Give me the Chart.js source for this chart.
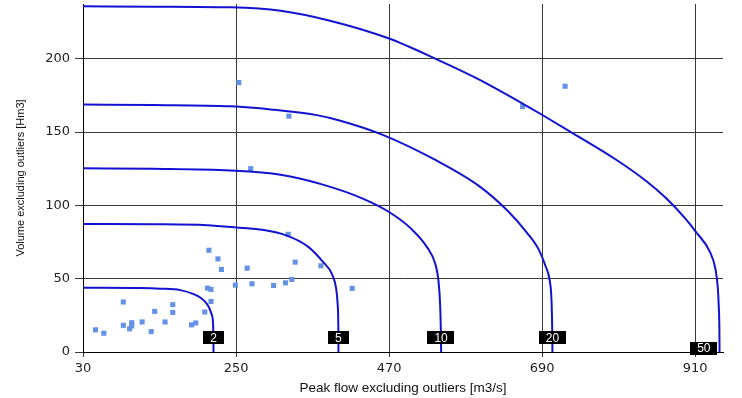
<!DOCTYPE html>
<html>
<head>
<meta charset="utf-8">
<script src="https://cdn.jsdelivr.net/npm/chart.js@4/dist/chart.umd.min.js"></script>
<style>
  html, body { margin: 0; padding: 0; background: #fff; }
  #chart { display: block; }
</style>
</head>
<body>
<canvas id="chart" width="742" height="398"></canvas>
<script>
// ── Observed events (peak flow, volume) ──
var obsQ = [48, 60, 88, 88, 97, 100, 100, 115, 128, 133, 148, 159, 159, 186, 192, 205,
            211, 224, 229, 209, 214, 214, 249, 266, 273, 304, 321, 330, 335, 325,
            372, 417, 254, 326, 271, 662, 723];
var obsV = [15.1, 12.8, 34.1, 18.2, 15.8, 20, 17.8, 20.5, 13.9, 27.7, 20.5, 32.3, 27, 18.5, 19.8, 27.3,
            69.4, 63.5, 56.3, 43.6, 42.7, 34.5, 45.6, 57.2, 46.5, 45.4, 47.2, 49.5, 61.3, 80.3,
            58.8, 43.4, 183.8, 160.9, 125.1, 167.4, 181.3];

// ── Return period curves ──
var returnPeriods = ['2', '5', '10', '20', '50'];

var curve2Q = [30, 112, 141, 170, 189, 199, 206, 211, 215, 217, 217.4, 217.6];
var curve2V = [43.8, 43.6, 43.2, 42.2, 39.5, 37, 34, 30.5, 25.5, 19, 10, 0];

var curve5Q = [30, 130, 208, 250, 290, 322, 352, 375, 388, 394, 396, 397, 397.2];
var curve5V = [87.4, 87.2, 86.5, 85, 83.2, 79.6, 72.4, 61.5, 53, 43, 33, 18, 0];

var curve10Q = [30, 130, 242, 314, 376, 433, 470, 502, 525, 536.5, 541, 543.4, 544.4, 544.8];
var curve10V = [125.3, 125, 123.8, 120.9, 114, 104.5, 95.5, 84, 71.2, 60, 48.5, 32, 15, 0];

var curve20Q = [30, 130, 242, 300, 366, 400, 460, 538.6, 600, 640, 668, 685, 695, 701, 703.5, 704.5, 704.8];
var curve20V = [168.8, 168.5, 167.6, 165.5, 161.6, 157.8, 148.3, 130.5, 113, 96.5, 81.5, 70, 58.5, 48.5, 35, 15, 0];

var curve50Q = [30, 130, 242, 314, 385, 469, 537, 601, 660, 691, 735, 797, 840, 868, 895, 911, 931, 939, 942.5, 944, 944.8, 945];
var curve50V = [235.8, 235.6, 235.1, 232.8, 226, 214, 200, 185.5, 170, 161.5, 149, 131, 116.5, 105, 91.5, 82, 68.5, 57, 44, 30, 15, 0];

// ── Axis ticks ──
var xTickValues = [30, 250, 470, 690, 910];
var yTickValues = [0, 50, 100, 150, 200];

function toPoints(qs, vs) {
    return qs.map(function (q, i) { return { x: q, y: vs[i] }; });
}

var curves = [
    toPoints(curve2Q, curve2V),
    toPoints(curve5Q, curve5V),
    toPoints(curve10Q, curve10V),
    toPoints(curve20Q, curve20V),
    toPoints(curve50Q, curve50V)
];

var datasets = [{
    type: 'scatter',
    label: 'Observed',
    data: toPoints(obsQ, obsV),
    backgroundColor: '#6592e6',
    borderColor: '#6592e6',
    borderWidth: 0,
    pointStyle: 'rect',
    pointRadius: 3.6,
    order: 2
}];

curves.forEach(function (pts, i) {
    datasets.push({
        type: 'line',
        label: 'T = ' + returnPeriods[i],
        data: pts,
        borderColor: '#1212d2',
        borderWidth: 2,
        pointRadius: 0,
        cubicInterpolationMode: 'monotone',
        fill: false,
        order: 1
    });
});

// ── Black boxes with return period on each curve ──
var curveLabels = {
    id: 'curveLabels',
    afterDatasetsDraw: function (chart) {
        var ctx = chart.ctx;
        var xs = chart.scales.x, ys = chart.scales.y;
        var area = chart.chartArea;
        ctx.save();
        ctx.font = '12px "Liberation Sans", Arial, sans-serif';
        ctx.textBaseline = 'middle';
        ctx.textAlign = 'center';
        curves.forEach(function (pts, i) {
            var last = pts[pts.length - 1];
            var text = returnPeriods[i];
            var w = ctx.measureText(text).width + 14;
            var h = 13;
            var cx = xs.getPixelForValue(last.x);
            var cy = ys.getPixelForValue(10);
            if (cx + w / 2 > area.right) {
                cx = cx - 2 - w / 2;
                cy = area.bottom - 4;
            }
            ctx.fillStyle = '#000';
            ctx.fillRect(Math.round(cx - w / 2), Math.round(cy - h / 2), Math.round(w), h);
            ctx.fillStyle = '#fff';
            ctx.fillText(text, cx, cy + 1);
        });
        ctx.restore();
    }
};

new Chart(document.getElementById('chart'), {
    data: { datasets: datasets },
    options: {
        responsive: false,
        animation: false,
        layout: { padding: { top: 0, right: 19, bottom: 0, left: 0 } },
        plugins: {
            legend: { display: false },
            tooltip: { enabled: false }
        },
        scales: {
            x: {
                type: 'linear',
                min: 30,
                max: 950,
                afterBuildTicks: function (s) {
                    s.ticks = xTickValues.map(function (v) { return { value: v }; });
                },
                afterFit: function (s) {
                    s.height = 46;
                    s.paddingLeft = 0;
                    s.paddingRight = 0;
                },
                grid: { color: '#3a3a3a', lineWidth: 1, tickLength: 5, drawTicks: true },
                border: { color: '#000', width: 1 },
                ticks: {
                    padding: 4,
                    color: '#222',
                    font: { family: '"DejaVu Sans", sans-serif', size: 13 },
                    maxRotation: 0
                },
                title: {
                    display: true,
                    text: 'Peak flow excluding outliers [m3/s]',
                    color: '#111',
                    font: { family: '"Liberation Sans", Arial, sans-serif', size: 13.5 },
                    padding: { top: 0, bottom: 2 }
                }
            },
            y: {
                type: 'linear',
                min: 0,
                max: 237.4,
                afterBuildTicks: function (s) {
                    s.ticks = yTickValues.map(function (v) { return { value: v }; });
                },
                afterFit: function (s) {
                    s.width = 83;
                    s.paddingTop = 0;
                    s.paddingBottom = 0;
                },
                grid: { color: '#3a3a3a', lineWidth: 1, tickLength: 8 },
                border: { color: '#000', width: 1 },
                ticks: {
                    padding: 5,
                    color: '#222',
                    font: { family: '"DejaVu Sans", sans-serif', size: 13 }
                },
                title: {
                    display: true,
                    text: 'Volume excluding outliers [Hm3]',
                    color: '#111',
                    font: { family: '"Liberation Sans", Arial, sans-serif', size: 11 },
                    padding: { top: 14, bottom: 0 }
                }
            }
        }
    },
    plugins: [curveLabels]
});
</script>
</body>
</html>
